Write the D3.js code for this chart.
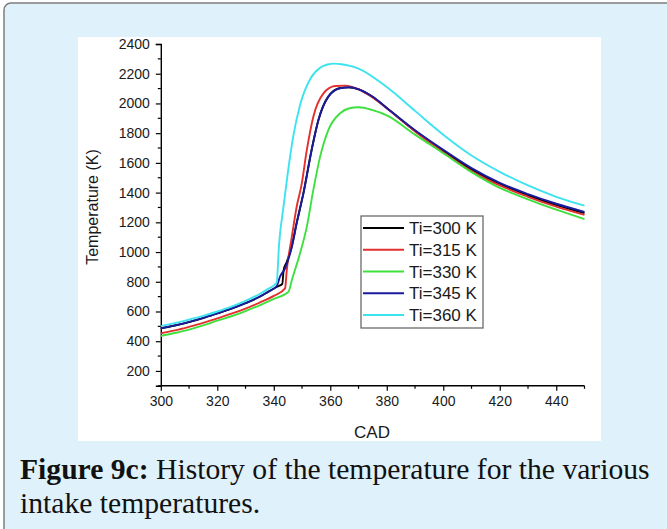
<!DOCTYPE html>
<html>
<head>
<meta charset="utf-8">
<script src="https://cdn.jsdelivr.net/npm/d3@7"></script>
<style>
  html, body { margin: 0; padding: 0; background: #ffffff; }
  svg { display: block; }
</style>
</head>
<body>
<svg id="chart" width="667" height="529"></svg>
<script>
// ---------------- DATA ----------------
const seriesNames = ["Ti=300 K", "Ti=315 K", "Ti=330 K", "Ti=345 K", "Ti=360 K"];
const seriesColors = ["#000000", "#e2302e", "#3ee03e", "#1a1a9c", "#3de3ee"];

const cad300  = [300, 305, 310, 315, 320, 325, 330, 335, 338, 341, 343, 343.5, 344.5, 346.4, 348.1, 350.5, 353.4, 355.8, 359.3, 363.5, 366.5, 370, 375, 380, 390, 400, 410, 420, 430, 440, 450];
const temp300 = [486, 506, 529, 556, 587, 619, 656, 699, 732, 765, 785, 880, 930, 1040, 1196, 1398, 1688, 1888, 2046, 2104, 2108, 2096, 2044, 1969, 1816, 1680, 1556, 1458, 1382, 1316, 1262];

const cad315  = [300, 305, 310, 315, 320, 325, 330, 335, 340, 344, 344.6, 346.4, 348.1, 349.8, 351.7, 354, 357.6, 361.7, 365.5, 370, 375, 380, 390, 400, 410, 420, 430, 440, 450];
const temp315 = [453, 473, 497, 523, 554, 585, 620, 660, 705, 756, 879, 1103, 1305, 1450, 1687, 1911, 2068, 2117, 2120, 2095, 2040, 1968, 1812, 1672, 1545, 1448, 1372, 1306, 1250];

const cad330  = [300, 305, 310, 315, 320, 325, 330, 335, 340, 345.2, 346.4, 349.3, 351.7, 354, 356.4, 359.3, 363.5, 366.5, 370, 375, 380, 390, 400, 410, 420, 430, 440, 450];
const temp330 = [435, 455, 478, 506, 538, 568, 603, 642, 685, 733, 812, 992, 1171, 1418, 1642, 1821, 1934, 1966, 1974, 1955, 1920, 1790, 1665, 1538, 1432, 1355, 1285, 1222];

const cad345  = [300, 305, 310, 315, 320, 325, 330, 335, 338, 341, 342.2, 344, 346.4, 348.1, 350.5, 353.4, 355.8, 359.3, 363.5, 367, 370, 375, 380, 390, 400, 410, 420, 430, 440, 450];
const temp345 = [487, 507, 530, 557, 588, 620, 657, 700, 733, 770, 834, 891, 1036, 1194, 1395, 1687, 1889, 2046, 2102, 2109, 2095, 2045, 1970, 1820, 1688, 1565, 1466, 1390, 1325, 1270];

const cad360  = [300, 305, 310, 315, 320, 325, 330, 335, 338, 341, 341.9, 343.4, 344.8, 346.9, 349.3, 352.9, 356.4, 359, 361.5, 364, 367, 370, 380, 390, 400, 410, 420, 430, 440, 450];
const temp360 = [502, 522, 545, 570, 600, 633, 672, 718, 752, 793, 1060, 1300, 1510, 1780, 1990, 2165, 2240, 2262, 2268, 2264, 2253, 2235, 2110, 1950, 1790, 1650, 1540, 1448, 1372, 1312];

const xTicks = [300, 320, 340, 360, 380, 400, 420, 440];
const yTicks = [200, 400, 600, 800, 1000, 1200, 1400, 1600, 1800, 2000, 2200, 2400];
const xLabel = "CAD";
const yLabel = "Temperature (K)";
const captionBold = "Figure 9c:";
const captionLine1 = " History of the temperature for the various";
const captionLine2 = "intake temperatures.";

// ---------------- DRAW ----------------
const svg = d3.select("#chart");
const cadSets = [cad300, cad315, cad330, cad345, cad360];
const tempSets = [temp300, temp315, temp330, temp345, temp360];

// outer caption box
svg.append("rect")
  .attr("x", 4).attr("y", 3).attr("width", 720).attr("height", 600)
  .attr("rx", 7).attr("ry", 7)
  .attr("fill", "#dff1fb").attr("stroke", "#7d7d7d").attr("stroke-width", 1.5);

// white figure panel
svg.append("rect")
  .attr("x", 78).attr("y", 37).attr("width", 523).attr("height", 404)
  .attr("fill", "#ffffff");

const x = d3.scaleLinear().domain([300, 450]).range([160.8, 584.5]);
const y = d3.scaleLinear().domain([100, 2400]).range([385.8, 44]);

const font = "'Liberation Sans', Arial, sans-serif";

// minor ticks
const xMinor = d3.range(310, 451, 20);
const yMinor = d3.range(100, 2400, 200);

const gx = svg.append("g").attr("transform", `translate(0,${y(100)})`);
gx.call(d3.axisBottom(x).tickValues(xTicks).tickFormat(d3.format("d")).tickSizeOuter(0).tickSize(5).tickPadding(5));
gx.append("g").selectAll("line").data(xMinor).join("line")
  .attr("x1", d => x(d)).attr("x2", d => x(d)).attr("y1", 0).attr("y2", 3)
  .attr("stroke", "#000").attr("stroke-width", 1.2);

const gy = svg.append("g").attr("transform", `translate(${x(300)},0)`);
gy.call(d3.axisLeft(y).tickValues(yTicks).tickFormat(d3.format("d")).tickSizeOuter(0).tickSize(5).tickPadding(6));
gy.append("g").selectAll("line").data(yMinor).join("line")
  .attr("y1", d => y(d)).attr("y2", d => y(d)).attr("x1", 0).attr("x2", -3)
  .attr("stroke", "#000").attr("stroke-width", 1.2);

[gx, gy].forEach(g => {
  g.select(".domain").attr("stroke", "#000").attr("stroke-width", 1.4);
  g.selectAll(".tick line").attr("stroke", "#000").attr("stroke-width", 1.2);
  g.selectAll(".tick text").attr("font-family", font).attr("font-size", 14).attr("fill", "#1a1a1a");
});
gx.select(".domain").attr("d", `M${x(300)},0H${x(450)}`);

// axis titles
svg.append("text").attr("x", 372).attr("y", 438).attr("text-anchor", "middle")
  .attr("font-family", font).attr("font-size", 17).attr("fill", "#1a1a1a").text(xLabel);
svg.append("text").attr("transform", `translate(98,207) rotate(-90)`).attr("text-anchor", "middle")
  .attr("font-family", font).attr("font-size", 16).attr("fill", "#1a1a1a").text(yLabel);

// lines
const line = d3.line().x(d => x(d[0])).y(d => y(d[1])).curve(d3.curveMonotoneX);
const plot = svg.append("g");
seriesNames.forEach((name, i) => {
  const pts = cadSets[i].map((c, j) => [c, tempSets[i][j]]);
  plot.append("path").datum(pts)
    .attr("d", line).attr("fill", "none")
    .attr("stroke", seriesColors[i]).attr("stroke-width", 1.9)
    .attr("stroke-linejoin", "round");
});

// legend
const lg = svg.append("g");
lg.append("rect").attr("x", 361).attr("y", 216).attr("width", 122).attr("height", 112)
  .attr("fill", "#ffffff").attr("stroke", "#6a6a6a").attr("stroke-width", 1.3);
const legendY = d3.scalePoint().domain(seriesNames).range([228, 315]);
seriesNames.forEach((name, i) => {
  const yy = legendY(name);
  lg.append("line").attr("x1", 363).attr("x2", 404).attr("y1", yy).attr("y2", yy)
    .attr("stroke", seriesColors[i]).attr("stroke-width", 1.9);
  lg.append("text").attr("x", 409).attr("y", yy + 6)
    .attr("font-family", font).attr("font-size", 17).attr("fill", "#1a1a1a").text(name);
});

// caption
const capFont = "'Liberation Serif', 'Times New Roman', serif";
const cap1 = svg.append("text").attr("x", 20).attr("y", 479)
  .attr("font-family", capFont).attr("font-size", 20).attr("fill", "#111");
cap1.append("tspan").attr("font-weight", "bold").text(captionBold);
cap1.append("tspan").text(captionLine1);
const w = cap1.node().getComputedTextLength();
const fs = 20 * 630 / w;
cap1.attr("font-size", fs);
svg.append("text").attr("x", 20).attr("y", 513)
  .attr("font-family", capFont).attr("font-size", fs).attr("fill", "#111").text(captionLine2);
</script>
</body>
</html>
